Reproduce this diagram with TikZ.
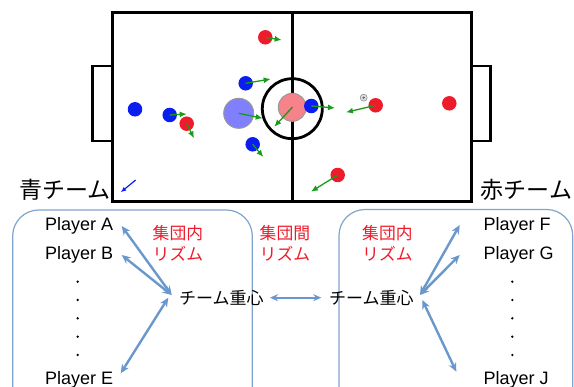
\documentclass[tikz,border=0pt]{standalone}
\usepackage{fontspec}
\setmainfont{Liberation Sans}
\newfontfamily\jp{Noto Sans CJK JP}
\usetikzlibrary{arrows.meta}
\definecolor{pred}{HTML}{EE1C2A}
\definecolor{pblue}{HTML}{0A1EF0}
\definecolor{pgreen}{HTML}{1A9A1A}
\definecolor{lnk}{HTML}{6A98CC}
\definecolor{boxc}{HTML}{7FA4CF}
\tikzset{
  fieldline/.style={line width=2.8pt},
  redp/.style={circle,fill=pred,inner sep=0pt,minimum size=14.5pt},
  bluep/.style={circle,fill=pblue,inner sep=0pt,minimum size=14.5pt},
  mv/.style={pgreen,line width=1.3pt,-{Latex[length=7pt,width=6pt]}},
  lk/.style={lnk,line width=2.4pt,{Stealth[length=9pt,width=8pt]}-{Stealth[length=9pt,width=8pt]}},
  team/.style={font=\jp\fontsize{23}{25}\selectfont,inner sep=0pt},
  pl/.style={font=\fontsize{18}{20}\selectfont,inner sep=0pt,anchor=west},
  rz/.style={font=\jp\fontsize{16.8}{21}\selectfont,text=pred,align=left,inner sep=0pt},
  cg/.style={font=\jp\fontsize{17}{19}\selectfont,inner sep=0pt},
  dotn/.style={circle,fill=black,inner sep=0pt,minimum size=2.6pt},
  grp/.style={draw=boxc,line width=1.2pt,rounded corners=26pt}
}
\begin{document}
\begin{tikzpicture}[x=1pt,y=-1pt]
\useasboundingbox (0,0) rectangle (574,387);
% field
\draw[fieldline] (112.7,12.3) rectangle (471.7,201.5);
\draw[fieldline] (112.7,66) -- (92.7,66) -- (92.7,141) -- (112.7,141);
\draw[fieldline] (471.7,66) -- (490.5,66) -- (490.5,141) -- (471.7,141);
\draw[fieldline] (292.3,12.3) -- (292.3,201.5);
\draw[fieldline] (292.3,108.7) circle (30pt);
% centroids
\node[circle,fill=blue!50,draw=gray!80,line width=1pt,inner sep=0pt,minimum size=30pt] (bc) at (238.7,113.3) {};
\node[circle,fill=pred!55,draw=gray!80,line width=1pt,inner sep=0pt,minimum size=28pt] (rc) at (292.3,107.3) {};
\coordinate (bcm) at (262.7,118.3);
\coordinate (rcm) at (274.3,126.7);
\draw[mv] (bc.center) -- (bcm);
\draw[mv] (rc.center) -- (rcm);
% players
\node[redp] (r1) at (265.3,37.3) {};
\node[bluep] (b1) at (245.7,83.3) {};
\node[bluep] (b2) at (135,109.3) {};
\node[bluep] (b3) at (169.7,115) {};
\node[redp] (r2) at (186.7,123.7) {};
\node[bluep] (b4) at (311.3,106) {};
\node[redp] (r3) at (375.7,105.3) {};
\node[redp] (r4) at (449.3,103.3) {};
\node[bluep] (b5) at (252.7,144.3) {};
\node[redp] (r5) at (337.7,175) {};
\node[circle,fill=gray!25,draw=gray,line width=0.5pt,inner sep=0pt,minimum size=7pt] (ball) at (363.7,97.7) {};
\fill[gray!80!black] (ball.center) circle (1.3pt);
\coordinate (r1m) at (281.7,40);
\coordinate (b1m) at (270.7,79);
\coordinate (b3m) at (186.7,114);
\coordinate (r2m) at (194,138.3);
\coordinate (b4m) at (335,108);
\coordinate (r3m) at (346,112.3);
\coordinate (b5m) at (263.3,157);
\coordinate (r5m) at (311,191.7);
\draw[mv] (r1.center) -- (r1m);
\draw[mv] (b1.center) -- (b1m);
\draw[mv] (b3.center) -- (b3m);
\draw[mv] (r2.center) -- (r2m);
\draw[mv] (b4.center) -- (b4m);
\draw[mv] (r3.center) -- (r3m);
\draw[mv] (b5.center) -- (b5m);
\draw[mv] (r5.center) -- (r5m);
\coordinate (ba0) at (135.7,180);
\coordinate (ba1) at (120.7,192.3);
\draw[pblue,line width=1.2pt,-{Latex[length=5.5pt,width=4.5pt]}] (ba0) -- (ba1);
% team labels
\node[team,anchor=west] (tb) at (19,189.5) {青チーム};
\node[team,anchor=east] (tr) at (572.5,189.5) {赤チーム};
% group boxes
\draw[grp] (12.7,210) rectangle (252.3,420);
\draw[grp] (339,209.5) rectangle (572.7,420);
% left players
\node[pl] (pa) at (45,226) {Player A};
\node[pl] (pb) at (45,255) {Player B};
\node[pl] (pe) at (45,380) {Player E};
\foreach \y in {281.7,300,318.3,336.7,355} \node[dotn] at (77.7,\y) {};
% right players
\node[pl] (pf) at (483.3,226) {Player F};
\node[pl] (pg) at (483.3,255) {Player G};
\node[pl] (pj) at (483.3,380) {Player J};
\foreach \y in {281.7,300,318.3,336.7,355} \node[dotn] at (512.3,\y) {};
% rhythm labels
\node[rz,anchor=west] (rzl) at (152.5,243.8) {集団内\\リズム};
\node[rz,anchor=west] (rzc) at (259.5,243.8) {集団間\\リズム};
\node[rz,anchor=west] (rzr) at (362,243.8) {集団内\\リズム};
% centroid labels
\node[cg,anchor=west] (cgl) at (179,297.7) {チーム重心};
\node[cg,anchor=west] (cgr) at (329,297.7) {チーム重心};
% links
\coordinate (hl) at (171.7,295);
\coordinate (hle) at (168.3,297.7);
\coordinate (ta) at (121.7,226);
\coordinate (tbb) at (121.7,255);
\coordinate (te) at (120.7,373.3);
\draw[lk] (ta) -- (hl);
\draw[lk] (tbb) -- (hl);
\draw[lk] (te) -- (hle);
\coordinate (hr) at (420,295);
\coordinate (hre) at (422.3,300);
\coordinate (tf) at (459.7,225);
\coordinate (tg) at (459.7,255);
\coordinate (tj) at (456.3,371.7);
\draw[lk] (tf) -- (hr);
\draw[lk] (tg) -- (hr);
\draw[lk] (tj) -- (hre);
\coordinate (cl) at (270,297.7);
\coordinate (cr) at (321.3,297.7);
\draw[lk,line width=2pt,{Stealth[length=8pt,width=7pt]}-{Stealth[length=8pt,width=7pt]}] (cl) -- (cr);
\end{tikzpicture}
\end{document}
